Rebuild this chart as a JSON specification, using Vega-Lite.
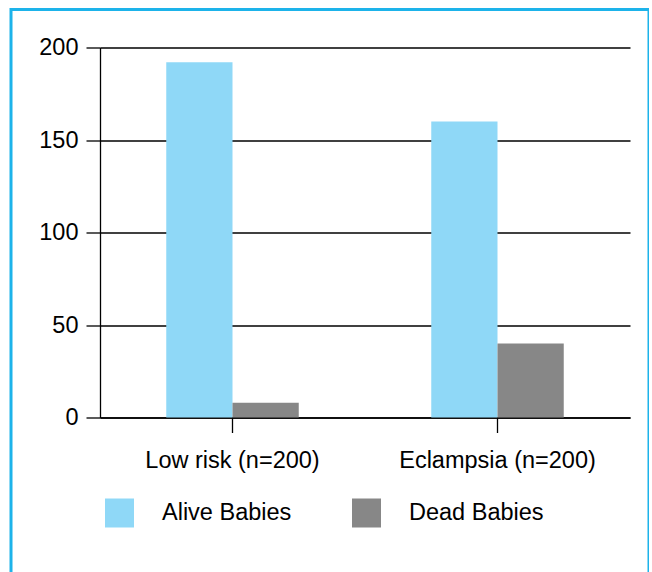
{
  "$schema": "https://vega.github.io/schema/vega-lite/v6.json",
  "width": 638,
  "height": 580,
  "padding": {"left": 11, "top": 9.5, "right": 0, "bottom": 0},
  "background": "white",
  "data": {
    "values": [
      {"group": "Low risk (n=200)", "status": "Alive Babies", "count": 192},
      {"group": "Low risk (n=200)", "status": "Dead Babies", "count": 8},
      {"group": "Eclampsia (n=200)", "status": "Alive Babies", "count": 160},
      {"group": "Eclampsia (n=200)", "status": "Dead Babies", "count": 40}
    ]
  },
  "mark": {"type": "bar"},
  "encoding": {
    "x": {
      "field": "group",
      "type": "nominal",
      "sort": ["Low risk (n=200)", "Eclampsia (n=200)"],
      "scale": {"range": [89, 619], "paddingInner": 0.5, "paddingOuter": 0.25},
      "axis": {
        "title": null,
        "orient": "bottom",
        "offset": -172,
        "labelAngle": 0,
        "tickSize": 15,
        "labelPadding": 16,
        "bandPosition": 0.5,
        "grid": false
      }
    },
    "xOffset": {
      "field": "status",
      "type": "nominal",
      "sort": ["Alive Babies", "Dead Babies"],
      "scale": {"paddingInner": 0, "paddingOuter": 0}
    },
    "y": {
      "field": "count",
      "type": "quantitative",
      "scale": {"domain": [0, 200], "range": [408, 38], "nice": false},
      "axis": {
        "title": null,
        "offset": -89,
        "values": [0, 50, 100, 150, 200],
        "tickSize": 14,
        "labelPadding": 8,
        "grid": true
      }
    },
    "color": {
      "field": "status",
      "type": "nominal",
      "scale": {"domain": ["Alive Babies", "Dead Babies"], "range": ["#8fd8f7", "#878787"]},
      "legend": {
        "title": null,
        "orient": "none",
        "legendX": 94,
        "legendY": 489,
        "direction": "horizontal",
        "symbolType": "square",
        "symbolSize": 841,
        "symbolStrokeWidth": 0,
        "labelOffset": 28,
        "columnPadding": 60,
        "labelFontSize": 23.5,
        "labelLimit": 0,
        "padding": 0
      }
    }
  },
  "config": {
    "view": {"stroke": "#1db3ea", "strokeWidth": 3},
    "axis": {
      "labelFont": "Liberation Sans",
      "labelFontSize": 23.5,
      "labelLimit": 0,
      "labelColor": "black",
      "domainColor": "black",
      "domainWidth": 1.3,
      "tickColor": "black",
      "tickWidth": 1.3,
      "gridColor": "black",
      "gridWidth": 1.3,
      "gridOpacity": 1
    },
    "legend": {"labelFont": "Liberation Sans", "labelColor": "black", "symbolOpacity": 1}
  }
}
